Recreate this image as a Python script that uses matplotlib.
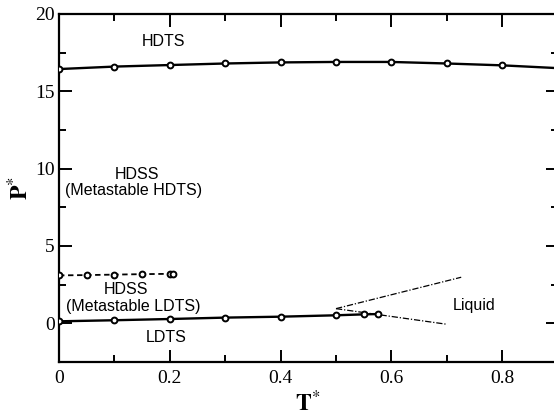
import matplotlib
matplotlib.use("Agg")
import matplotlib.pyplot as plt
from matplotlib.ticker import MultipleLocator

plt.rcParams["mathtext.fontset"] = "stix"

# HDTS / HDSS boundary
T_hd = [0.0, 0.1, 0.2, 0.3, 0.4, 0.5, 0.6, 0.7, 0.8]
P_hd = [16.44, 16.6, 16.7, 16.8, 16.87, 16.9, 16.9, 16.8, 16.68]
T_hd_line_end = 0.9
P_hd_line_end = 16.5

# HDSS / LDTS metastable (dashed)
T_ms = [0.0, 0.05, 0.1, 0.15, 0.2, 0.205]
P_ms = [3.1, 3.12, 3.15, 3.18, 3.2, 3.2]

# LDTS / HDSS boundary
T_ld = [0.0, 0.1, 0.2, 0.3, 0.4, 0.5, 0.55, 0.575]
P_ld = [0.13, 0.2, 0.28, 0.37, 0.43, 0.52, 0.58, 0.6]

# Liquid boundaries (dash-dot)
T_liq_up = [0.5, 0.726]
P_liq_up = [0.95, 2.98]
T_liq_lo = [0.5, 0.70]
P_liq_lo = [0.95, -0.06]

fig = plt.figure(figsize=(5.54, 4.17), dpi=100)
W, H = 554, 417
x0, x1 = 59, 557.6
y_top, y_bot = 14, 362
ax = fig.add_axes([x0 / W, 1 - y_bot / H, (x1 - x0) / W, (y_bot - y_top) / H])

mk = dict(marker="o", ms=4.2, mfc="white", mec="black", mew=1.4, ls="none", zorder=3)

ax.plot(T_hd + [T_hd_line_end], P_hd + [P_hd_line_end], color="black", lw=1.7, zorder=2)
ax.plot(T_hd, P_hd, **mk)

ax.plot(T_ms, P_ms, color="black", lw=1.3, ls=(0, (3, 2)), zorder=2)
ax.plot(T_ms, P_ms, **mk)

ax.plot(T_ld, P_ld, color="black", lw=1.7, zorder=2)
ax.plot(T_ld, P_ld, **mk)

ax.plot(T_liq_up, P_liq_up, color="black", lw=0.9, ls=(0, (5, 1.5, 1, 1.5)))
ax.plot(T_liq_lo, P_liq_lo, color="black", lw=0.9, ls=(0, (5, 1.5, 1, 1.5)))

ax.set_xlim(0, 0.9)
ax.set_ylim(-2.5, 20)

ax.xaxis.set_major_locator(MultipleLocator(0.2))
ax.xaxis.set_minor_locator(MultipleLocator(0.1))
ax.yaxis.set_major_locator(MultipleLocator(5))
ax.yaxis.set_minor_locator(MultipleLocator(2.5))
ax.tick_params(which="both", direction="in", top=True, right=True, width=1.4)
ax.tick_params(which="major", length=9)
ax.tick_params(which="minor", length=5)
ax.set_xticks([0, 0.2, 0.4, 0.6, 0.8])
ax.set_xticklabels(["0", "0.2", "0.4", "0.6", "0.8"])
ax.set_yticks([0, 5, 10, 15, 20])
ax.set_yticklabels(["0", "5", "10", "15", "20"])
for lab in ax.get_xticklabels() + ax.get_yticklabels():
    lab.set_fontfamily("Liberation Serif")
    lab.set_fontsize(14)
ax.tick_params(axis="x", pad=6)
ax.tick_params(axis="y", pad=3)
for s in ax.spines.values():
    s.set_linewidth(1.6)

fig.text(308 / W, 1 - 403 / H, r"$\mathbf{T}^{*}$", fontsize=17, ha="center", va="center")
fig.text(20 / W, 1 - 188 / H, r"$\mathbf{P}^{*}$", fontsize=17, ha="center", va="center",
         rotation=90)

tf = dict(fontsize=11.5, family="Liberation Sans", ha="center", va="center")
ax.text(0.188, 18.2, "HDTS", **tf)
ax.text(0.14, 9.6, "HDSS", **tf)
ax.text(0.134, 8.56, "(Metastable HDTS)", **tf)
ax.text(0.121, 2.18, "HDSS", **tf)
ax.text(0.134, 1.06, "(Metastable LDTS)", **tf)
ax.text(0.193, -0.93, "LDTS", **tf)
ax.text(0.75, 1.17, "Liquid", **tf)

fig.savefig("out.png", dpi=100)
